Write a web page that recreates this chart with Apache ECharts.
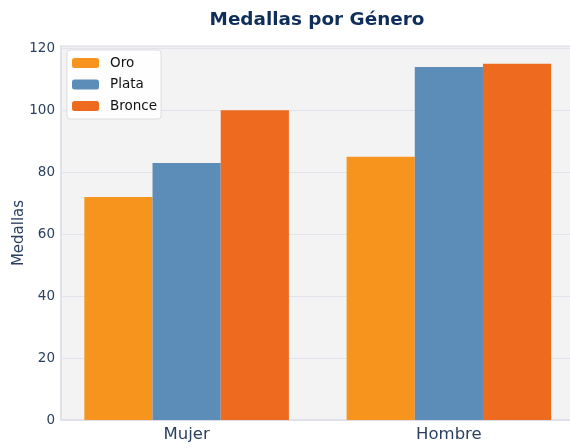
<!DOCTYPE html>
<html>
<head>
<meta charset="utf-8">
<script src="https://cdn.jsdelivr.net/npm/echarts@6/dist/echarts.min.js"></script>
<style>
  html, body { margin: 0; padding: 0; background: #fff; }
  #chart { width: 570px; height: 448px; }
</style>
</head>
<body>
<div id="chart"></div>
<script>
var categories = ['Mujer', 'Hombre']
var oro = [72, 85]
var plata = [83, 114]
var bronce = [100, 115]
var yTicks = [0, 20, 40, 60, 80, 100, 120]

var textColor = '#2a3f5f'
var font = 'DejaVu Sans'

// bars sit at x = 0, 1 on a value axis so the padding on each side matches
function pairs (values) {
    return values.map(function (v, i) { return [i, v] })
}

var myChart = echarts.init(document.getElementById('chart'), null, { renderer: 'canvas' })

var option = {
    animation: false,
    title: {
        text: 'Medallas por Género',
        left: 312,
        textAlign: 'center',
        top: 6,
        textStyle: {
            color: '#0f2f5a',
            fontFamily: font,
            fontWeight: 'bold',
            fontSize: 18.4
        }
    },
    legend: {
        orient: 'vertical',
        left: 67,
        top: 50,
        padding: [6, 4, 6, 5],
        itemWidth: 27,
        itemHeight: 10,
        itemGap: 7.5,
        backgroundColor: 'rgba(255,255,255,0.85)',
        borderColor: '#dddddd',
        borderWidth: 1,
        borderRadius: 3,
        textStyle: { color: '#111', fontFamily: font, fontSize: 13.5, padding: [0, 0, 0, 6] },
        data: ['Oro', 'Plata', 'Bronce']
    },
    grid: {
        left: 61,
        right: -4.5,
        top: 46,
        bottom: 28,
        outerBoundsMode: 'none',
        containLabel: false,
        show: true,
        backgroundColor: '#f3f3f3',
        borderColor: '#dedee8',
        borderWidth: 1
    },
    xAxis: {
        type: 'value',
        min: -0.479,
        max: 1.479,
        splitLine: { show: false },
        axisTick: { show: false },
        axisLine: { show: true, onZero: false, lineStyle: { color: '#dedee8', width: 1.5 } },
        axisLabel: {
            customValues: [0, 1],
            color: textColor, fontFamily: font, fontSize: 16.5, margin: 6,
            formatter: function (v) { return categories[Math.round(v)] }
        }
    },
    yAxis: {
        type: 'value',
        min: 0,
        max: 120.75,
        interval: 20,
        name: 'Medallas',
        nameLocation: 'middle',
        nameGap: 34,
        nameMoveOverlap: false,
        nameTextStyle: { color: textColor, fontFamily: font, fontSize: 15 },
        axisLine: { show: true, onZero: false, lineStyle: { color: '#dedee8', width: 1.5 } },
        axisTick: { show: false },
        splitLine: { lineStyle: { color: '#e3e3ec', width: 1 } },
        axisLabel: {
            color: textColor, fontFamily: font, fontSize: 13.5, margin: 6,
            formatter: function (v) { return yTicks.indexOf(v) >= 0 ? String(v) : '' }
        }
    },
    series: [
        {
            name: 'Oro', type: 'bar', data: pairs(oro),
            barGap: '0%', barCategoryGap: '22%',
            itemStyle: { color: '#f6941e' }
        },
        {
            name: 'Plata', type: 'bar', data: pairs(plata),
            itemStyle: { color: '#5c8db8' }
        },
        {
            name: 'Bronce', type: 'bar', data: pairs(bronce),
            itemStyle: { color: '#ed6a1e' }
        }
    ]
}
myChart.setOption(option)
</script>
</body>
</html>
